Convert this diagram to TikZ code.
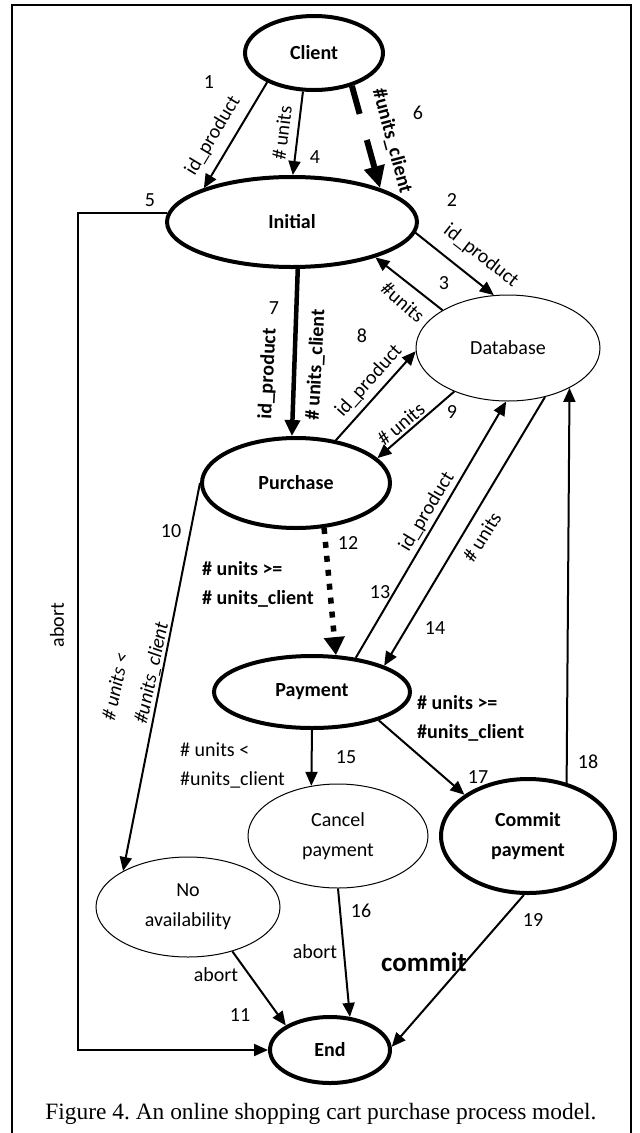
\documentclass[tikz,border=0pt]{standalone}
\usepackage{fontspec}
\setmainfont{Carlito}
\newfontfamily\capfont{Liberation Serif}
\usetikzlibrary{arrows.meta,shapes.geometric}
\frenchspacing
\newcommand\lblsz{\fontsize{20}{30}\selectfont}
\tikzset{
  sthick/.style={ellipse, draw, line width=4pt, inner sep=0pt, font=\lblsz\bfseries, align=center},
  sthin/.style={ellipse, draw, line width=1pt, inner sep=0pt, font=\lblsz, align=center},
  arr/.style={line width=2pt, -{Triangle[length=14pt,width=12pt]}},
  lab/.style={font=\lblsz, inner sep=0pt, align=left},
  blab/.style={font=\lblsz\bfseries, inner sep=0pt, align=left},
  ilab/.style={font=\lblsz\itshape, inner sep=0pt},
}
\begin{document}
\begin{tikzpicture}[x=1pt,y=-1pt]
\useasboundingbox (0,0) rectangle (640,1133);
\draw[line width=1.3pt] (12,1140) -- (12,5) -- (631,5) -- (631,1140);

% nodes
\node[sthick, minimum width=138pt, minimum height=74pt] (client) at (314,53) {Client};
\node[sthick, minimum width=250pt, minimum height=90pt] (initial) at (292,222) {Initial};
\node[sthin, minimum width=184pt, minimum height=106pt] (db) at (508,348) {Database};
\node[sthick, minimum width=188pt, minimum height=90pt] (purchase) at (296,483) {Purchase};
\node[sthick, minimum width=196pt, minimum height=72pt] (payment) at (312,692) {Payment};
\node[sthin, minimum width=180pt, minimum height=104pt] (cancel) at (338,836) {Cancel\\payment};
\node[sthick, minimum width=174pt, minimum height=114pt] (commit) at (528,836) {Commit\\payment};
\node[sthin, minimum width=184pt, minimum height=100pt] (noav) at (188,907) {No\\availability};
\node[sthick, minimum width=120pt, minimum height=66pt] (end) at (330,1050) {End};
\coordinate (c5) at (78,640);

% connectors
\draw[arr] (client.-148) -- (initial.159);
\draw[arr] (client.-106) -- (initial.89);
\draw[line width=6pt, dash pattern=on 29pt off 27pt, -{Triangle[length=22pt,width=20pt]}] (client.-41) -- (initial.21);
\draw[arr] (initial.-5) -- (db.105);
\draw[arr] (db.150) -- (initial.-23);
\draw[line width=4.5pt, -{Triangle[length=16pt,width=15pt]}] (initial.-83) -- (purchase.95);
\draw[arr] (purchase.47) -- (db.182);
\draw[arr] (db.219) -- (purchase.17);
\draw[arr] (purchase.180) -- (noav.151);
\draw[line width=5.5pt, dash pattern=on 6pt off 8pt, -{Triangle[length=18pt,width=20pt]}] (purchase.-58) -- (payment.57);
\draw[arr] (payment.38) -- (db.268);
\draw[arr] (db.-53) -- (payment.20);
\draw[arr] (payment.-90) -- (cancel.118);
\draw[arr] (payment.-23) -- (commit.147);
\draw[arr] (commit.54) -- (db.-33);
\draw[arr] (noav.-45) -- (end.151);
\draw[arr] (cancel.-90) -- (end.59);
\draw[arr] (commit.-94) -- (end.3);
\draw[arr] (initial.176) -| (c5) |- (end.west);

% labels
\node[lab] (n1) at (209,82) {1};
\node[lab, rotate=59] (t1) at (213,136) {id\_product};
\node[lab, rotate=83] (t4) at (282,133) {\# units};
\node[lab] (n4) at (315,157) {4};
\node[blab, rotate=-75] (t6) at (392,141) {\#units\_client};
\node[lab] (n6) at (418,113) {6};
\node[lab] (n2) at (452,200) {2};
\node[lab, rotate=-38] (t2) at (481,256) {id\_product};
\node[lab] (n3) at (444,283) {3};
\node[lab, rotate=-41] (t3) at (403,302) {\#units};
\node[lab] (n7) at (274,308) {7};
\node[blab, rotate=87] (t7a) at (268,374) {id\_product};
\node[blab, rotate=87] (t7b) at (316,365) {\# units\_client};
\node[lab] (n8) at (362,336) {8};
\node[lab, rotate=48] (t8) at (369,381) {id\_product};
\node[lab] (n9) at (452,412) {9};
\node[lab, rotate=40] (t9) at (401,424) {\# units};
\node[lab] (n10) at (171,531) {10};
\node[ilab, rotate=78] (t10a) at (115,687) {\# units <};
\node[ilab, rotate=78] (t10b) at (152,673) {\#units\_client};
\node[blab, anchor=west] (t12a) at (202,569) {\# units >=};
\node[blab, anchor=west] (t12b) at (202,599) {\# units\_client};
\node[lab] (n12) at (348,543) {12};
\node[lab, rotate=59] (t13) at (427,512) {id\_product};
\node[lab] (n13) at (380,592) {13};
\node[lab, rotate=58] (t14) at (482,537) {\# units};
\node[lab] (n14) at (435,628) {14};
\node[lab, rotate=90] (t5) at (57,625) {abort};
\node[lab] (n5) at (150,200) {5};
\node[lab, anchor=west] (t15a) at (180,750) {\# units <};
\node[lab, anchor=west] (t15b) at (180,780) {\#units\_client};
\node[lab] (n15) at (346,757) {15};
\node[blab, anchor=west] (t17a) at (417,703) {\# units >=};
\node[blab, anchor=west] (t17b) at (417,733) {\#units\_client};
\node[lab] (n17) at (478,777) {17};
\node[lab] (n18) at (588,762) {18};
\node[lab] (t11) at (216,975) {abort};
\node[lab] (n11) at (240,1015) {11};
\node[lab] (t16) at (315,952) {abort};
\node[lab] (n16) at (361,911) {16};
\node[font=\fontsize{27}{32}\selectfont\bfseries, inner sep=0pt] (t19) at (424,962) {commit};
\node[lab] (n19) at (533,920) {19};
\node[font=\capfont\fontsize{23.4}{28}\selectfont, inner sep=0pt] (cap) at (321,1114) {Figure 4. An online shopping cart purchase process model.};
\end{tikzpicture}
\end{document}
